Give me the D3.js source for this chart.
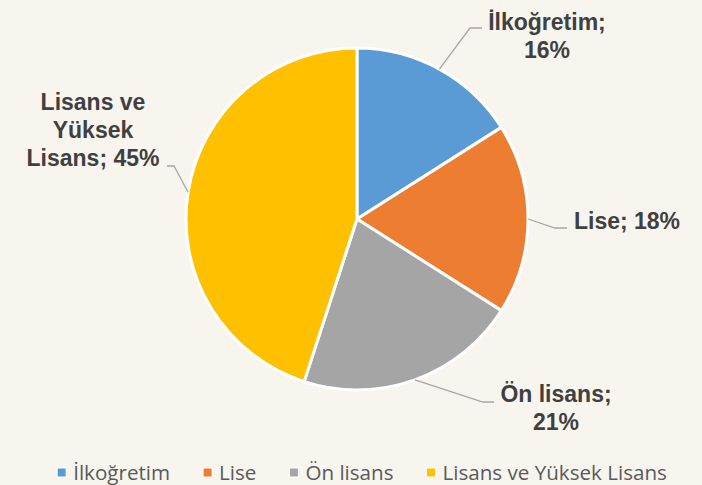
<!DOCTYPE html>
<html>
<head>
<meta charset="utf-8">
<script src="https://cdn.jsdelivr.net/npm/d3@7"></script>
<style>
  html, body { margin: 0; padding: 0; background: #f8f5ef; }
  svg { display: block; }
</style>
</head>
<body>
<div id="chart"></div>
<script>
// data
var categories = ["İlkoğretim", "Lise", "Ön lisans", "Lisans ve Yüksek Lisans"];
var shares = [16, 18, 21, 45];
var labelLines = [
  ["İlkoğretim;", "16%"],
  ["Lise; 18%"],
  ["Ön lisans;", "21%"],
  ["Lisans ve", "Yüksek", "Lisans; 45%"]
];
var colors = ["#5b9bd5", "#ed7d31", "#a5a5a5", "#ffc000"];

var width = 702, height = 485;
var cx = 357, cy = 219, radius = 171;

// where each data label sits (centre x, first baseline) and where its leader bends
var labelPos = [
  {x: 547, y: 30, elbow: [470, 28], end: [482, 28]},
  {x: 627, y: 229, elbow: [555, 228], end: [567, 228]},
  {x: 556, y: 402, elbow: [483, 402], end: [494, 402]},
  {x: 93, y: 110, elbow: [174, 166], end: [167, 166]}
];

var data = categories.map(function(c, i) {
  return {name: c, value: shares[i], lines: labelLines[i], color: colors[i], pos: labelPos[i]};
});

var svg = d3.select("#chart").append("svg")
    .attr("width", width)
    .attr("height", height);

svg.append("rect")
    .attr("width", width)
    .attr("height", height)
    .attr("fill", "#f8f5ef");

var pie = d3.pie().sort(null).value(function(d) { return d.value; });
var arc = d3.arc().innerRadius(0).outerRadius(radius);
var arcs = pie(data);

var g = svg.append("g").attr("transform", "translate(" + cx + "," + cy + ")");

g.selectAll("path.slice")
  .data(arcs)
  .enter().append("path")
    .attr("class", "slice")
    .attr("d", arc)
    .attr("fill", function(d) { return d.data.color; })
    .attr("stroke", "#ffffff")
    .attr("stroke-width", 3)
    .attr("stroke-linejoin", "round");

// leader lines, starting on the rim at each slice's middle angle
svg.append("g")
  .selectAll("polyline")
  .data(arcs)
  .enter().append("polyline")
    .attr("fill", "none")
    .attr("stroke", "#a6a6a6")
    .attr("stroke-width", 1.3)
    .attr("points", function(d) {
      var a = (d.startAngle + d.endAngle) / 2;
      var p0 = [cx + radius * Math.sin(a), cy - radius * Math.cos(a)];
      var p = d.data.pos;
      return [p0, p.elbow, p.end].map(function(q) { return q.join(","); }).join(" ");
    });

var labels = svg.append("g")
    .attr("font-family", "'Liberation Sans', Arial, sans-serif")
    .attr("font-weight", "bold")
    .attr("font-size", "23px")
    .attr("fill", "#404040")
    .attr("text-anchor", "middle");

data.forEach(function(d) {
  var t = labels.append("text")
      .attr("x", d.pos.x)
      .attr("y", d.pos.y);
  d.lines.forEach(function(line, j) {
    t.append("tspan")
        .attr("x", d.pos.x)
        .attr("dy", j === 0 ? 0 : 28)
        .text(line);
  });
});

// legend
var legend = svg.append("g")
    .attr("font-family", "'Open Sans', sans-serif")
    .attr("font-size", "20.6px")
    .attr("fill", "#595959");

var items = legend.selectAll("g.item")
  .data(data)
  .enter().append("g")
    .attr("class", "item");

items.append("rect")
    .attr("width", 9)
    .attr("height", 9)
    .attr("y", 468)
    .attr("fill", function(d) { return d.color; })
    .attr("stroke", "#ffffff")
    .attr("stroke-width", 1);

items.append("text")
    .attr("x", 16)
    .attr("y", 479.5)
    .text(function(d) { return d.name; });

var gap = 33, offsets = [], total = 0;
items.each(function(d, i) {
  var w = 16 + d3.select(this).select("text").node().getComputedTextLength();
  offsets.push(total);
  total += w + (i < data.length - 1 ? gap : 0);
});
var startX = 362 - total / 2;
items.attr("transform", function(d, i) { return "translate(" + (startX + offsets[i]) + ",0)"; });
</script>
</body>
</html>
